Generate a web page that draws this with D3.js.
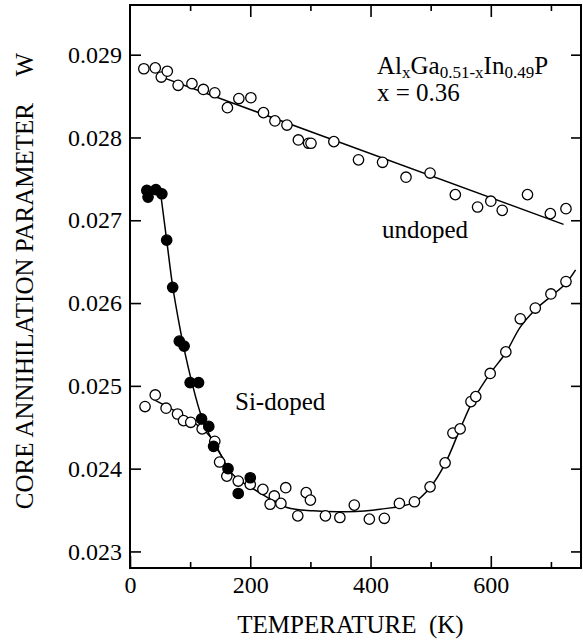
<!DOCTYPE html>
<html>
<head>
<meta charset="utf-8">
<script src="https://cdn.jsdelivr.net/npm/d3@7"></script>
<style>
  body { margin: 0; background: #fff; }
  svg { display: block; }
</style>
</head>
<body>
<div class="graph"></div>
<script>
// temperature (K) / core annihilation parameter W
const undopedT = [23, 42, 52, 62, 80, 103, 122, 141, 162, 181, 201, 222, 241, 261, 280, 297, 301, 339, 380, 420, 459, 499, 541, 578, 600, 619, 661, 699, 725];
const undopedW = [0.02883, 0.02884, 0.02873, 0.02880, 0.02863, 0.02865, 0.02858, 0.02854, 0.02836, 0.02847, 0.02848, 0.02830, 0.02820, 0.02815, 0.02797, 0.02793, 0.02793, 0.02795, 0.02773, 0.02770, 0.02752, 0.02757, 0.02731, 0.02716, 0.02723, 0.02712, 0.02731, 0.02708, 0.02714];
const undopedFitT = [45, 721];
const undopedFitW = [0.02875, 0.02695];

const siFilledT = [28, 30, 43, 53, 61, 71, 82, 90, 100, 114, 119, 131, 139, 163, 180, 200];
const siFilledW = [0.02736, 0.02728, 0.02737, 0.02732, 0.02676, 0.02619, 0.02554, 0.02548, 0.02504, 0.02504, 0.02460, 0.02451, 0.02427, 0.02400, 0.02370, 0.02389];
const siFilledFitT = [51, 61, 71, 83, 89, 103, 119, 139, 158];
const siFilledFitW = [0.02732, 0.02676, 0.02620, 0.02570, 0.02548, 0.02504, 0.02463, 0.02431, 0.02409];

const siOpenT = [25, 42, 60, 79, 89, 101, 120, 141, 149, 161, 180, 200, 221, 240, 233, 251, 259, 293, 300, 279, 325, 349, 373, 398, 423, 448, 473, 499, 524, 537, 549, 567, 575, 599, 625, 649, 674, 700, 725];
const siOpenW = [0.02475, 0.02489, 0.02473, 0.02466, 0.02458, 0.02456, 0.02448, 0.02433, 0.02408, 0.02391, 0.02385, 0.02381, 0.02375, 0.02367, 0.02357, 0.02358, 0.02377, 0.02371, 0.02362, 0.02343, 0.02343, 0.02341, 0.02356, 0.02339, 0.02340, 0.02358, 0.02360, 0.02378, 0.02407, 0.02443, 0.02448, 0.02481, 0.02487, 0.02515, 0.02541, 0.02581, 0.02594, 0.02611, 0.02626];
const siOpenFitT = [38, 128, 171, 211, 261, 305, 360, 416, 471, 499, 524, 549, 571, 599, 625, 649, 674, 700, 725, 741];
const siOpenFitW = [0.02484, 0.02443, 0.02393, 0.02373, 0.02353, 0.02349, 0.02348, 0.02351, 0.02359, 0.02377, 0.02406, 0.02448, 0.02483, 0.02515, 0.02540, 0.02571, 0.02592, 0.02608, 0.02624, 0.02640];

const xMajor = [0, 200, 400, 600];
const xMinor = [100, 300, 500, 700];
const yTicks = [0.023, 0.024, 0.025, 0.026, 0.027, 0.028, 0.029];

const width = 583;
const height = 640;
const plotLeft = 130, plotRight = 581, plotTop = 5, plotBottom = 568;
const font = '"Liberation Serif", "Times New Roman", serif';
const radius = 5.2;

const x = d3.scaleLinear().domain([0, 750]).range([plotLeft, plotRight]);
const y = d3.scaleLinear().domain([0.0228, 0.0296]).range([plotBottom, plotTop]);

const svg = d3.select('.graph')
  .append('svg')
    .attr('width', width)
    .attr('height', height)
    .style('font-family', font);

svg.append('rect')
  .attr('width', width)
  .attr('height', height)
  .attr('fill', '#fff');

function styleAxis(g) {
  g.select('.domain').remove();
  g.attr('font-family', font).attr('font-size', 24);
  g.selectAll('line').attr('stroke', '#000').attr('stroke-width', 1.6);
  g.selectAll('text').attr('fill', '#000');
}

// bottom axis
svg.append('g')
  .attr('transform', `translate(0,${plotBottom})`)
  .call(d3.axisBottom(x).tickValues(xMajor).tickSize(-12).tickPadding(8).tickFormat(d3.format('d')))
  .call(styleAxis);
svg.append('g')
  .attr('transform', `translate(0,${plotBottom})`)
  .call(d3.axisBottom(x).tickValues(xMinor).tickSize(-6).tickFormat(''))
  .call(styleAxis);

// top axis
svg.append('g')
  .attr('transform', `translate(0,${plotTop})`)
  .call(d3.axisTop(x).tickValues(xMajor.slice(1)).tickSize(-12).tickFormat(''))
  .call(styleAxis);
svg.append('g')
  .attr('transform', `translate(0,${plotTop})`)
  .call(d3.axisTop(x).tickValues(xMinor).tickSize(-6).tickFormat(''))
  .call(styleAxis);

// left axis
svg.append('g')
  .attr('transform', `translate(${plotLeft},0)`)
  .call(d3.axisLeft(y).tickValues(yTicks).tickSize(-11).tickPadding(8).tickFormat(d3.format('.3f')))
  .call(styleAxis);

// right axis
svg.append('g')
  .attr('transform', `translate(${plotRight},0)`)
  .call(d3.axisRight(y).tickValues(yTicks).tickSize(-10).tickFormat(''))
  .call(styleAxis);

// frame
svg.append('rect')
  .attr('x', plotLeft)
  .attr('y', plotTop)
  .attr('width', plotRight - plotLeft)
  .attr('height', plotBottom - plotTop)
  .attr('fill', 'none')
  .attr('stroke', '#000')
  .attr('stroke-width', 2);

// fit curves
const line = d3.line()
  .x(d => x(d[0]))
  .y(d => y(d[1]))
  .curve(d3.curveCatmullRom.alpha(0.5));

const fits = [
  d3.zip(undopedFitT, undopedFitW),
  d3.zip(siFilledFitT, siFilledFitW),
  d3.zip(siOpenFitT, siOpenFitW),
];

svg.selectAll('.fit')
  .data(fits)
  .enter().append('path')
    .attr('class', 'fit')
    .attr('d', line)
    .attr('fill', 'none')
    .attr('stroke', '#000')
    .attr('stroke-width', 1.5);

// markers
function drawPoints(ts, ws, fill) {
  svg.append('g')
    .selectAll('circle')
    .data(d3.zip(ts, ws))
    .enter().append('circle')
      .attr('cx', d => x(d[0]))
      .attr('cy', d => y(d[1]))
      .attr('r', radius)
      .attr('fill', fill)
      .attr('stroke', '#000')
      .attr('stroke-width', 1.3);
}

drawPoints(undopedT, undopedW, '#fff');
drawPoints(siOpenT, siOpenW, '#fff');
drawPoints(siFilledT, siFilledW, '#000');

// labels
svg.append('text')
  .attr('x', (plotLeft + plotRight) / 2 - 5)
  .attr('y', 633)
  .attr('text-anchor', 'middle')
  .attr('font-size', 25)
  .attr('xml:space', 'preserve')
  .text('TEMPERATURE  (K)');

const yLabel = svg.append('text')
  .attr('transform', 'translate(33,281) rotate(-90)')
  .attr('text-anchor', 'middle')
  .attr('font-size', 25);
yLabel.append('tspan').text('CORE ANNIHILATION PARAMETER');
yLabel.append('tspan').attr('dx', 28).text('W');

const title = svg.append('text')
  .attr('x', 377)
  .attr('y', 74)
  .attr('font-size', 25);
title.append('tspan').text('Al');
title.append('tspan').attr('font-size', 17).attr('dy', 4).text('x');
title.append('tspan').attr('dy', -4).text('Ga');
title.append('tspan').attr('font-size', 17).attr('dy', 4).text('0.51-x');
title.append('tspan').attr('dy', -4).text('In');
title.append('tspan').attr('font-size', 17).attr('dy', 4).text('0.49');
title.append('tspan').attr('dy', -4).text('P');

svg.append('text')
  .attr('x', 377)
  .attr('y', 101)
  .attr('font-size', 25)
  .text('x = 0.36');

svg.append('text')
  .attr('x', 382)
  .attr('y', 238)
  .attr('font-size', 25)
  .text('undoped');

svg.append('text')
  .attr('x', 235)
  .attr('y', 410)
  .attr('font-size', 25)
  .text('Si-doped');
</script>
</body>
</html>
